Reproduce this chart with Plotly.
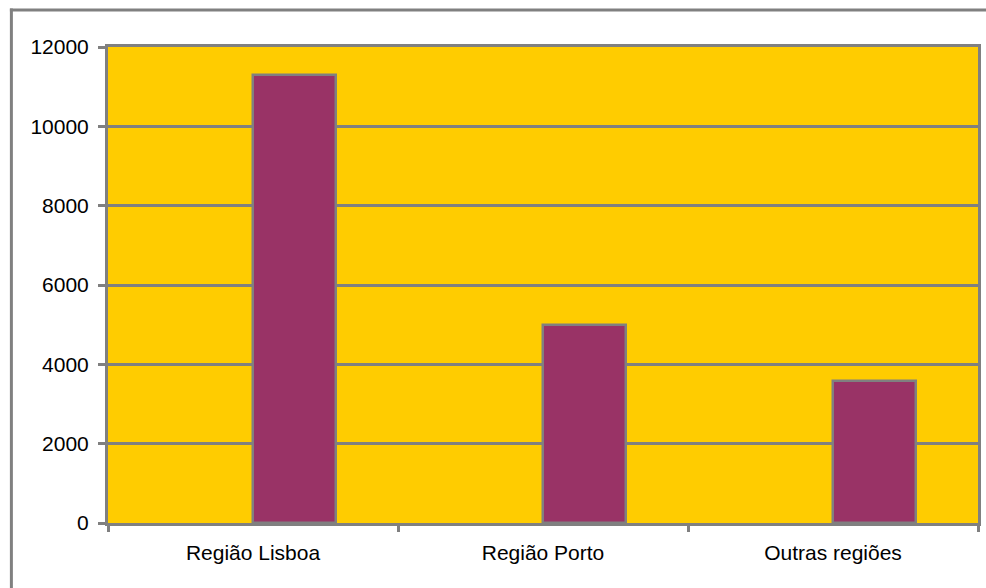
import plotly.graph_objects as go

categories = ["Região Lisboa", "Região Porto", "Outras regiões"]
values = [11300, 5000, 3580]
y_ticks = [0, 2000, 4000, 6000, 8000, 10000, 12000]

GRAY = "#808080"
FONT = "Liberation Sans, Arial, sans-serif"

fig = go.Figure()
fig.add_trace(go.Bar(
    x=categories, y=values,
    marker=dict(color="#993366", line=dict(color=GRAY, width=2.5)),
    width=0.286, offset=0,
    showlegend=False,
))

W, H = 986, 588
L, R, T, B = 108, 4.5, 46.5, 65
pw = W - L - R
ph = H - T - B

def px_x(x):
    return (x - L) / pw

def px_y(y):
    return (H - B - y) / ph

# outer chart border (only left and top edges fall inside the picture)
fig.add_shape(type="line", xref="paper", yref="paper",
              x0=px_x(11), x1=px_x(11), y0=px_y(8), y1=px_y(600),
              line=dict(color=GRAY, width=3), layer="below")
fig.add_shape(type="line", xref="paper", yref="paper",
              x0=px_x(9.5), x1=px_x(1000), y0=px_y(9.5), y1=px_y(9.5),
              line=dict(color=GRAY, width=3), layer="below")

fig.update_layout(
    width=W, height=H,
    margin=dict(l=L, r=R, t=T, b=B, pad=0),
    paper_bgcolor="white",
    plot_bgcolor="#FFCC00",
    font=dict(family=FONT, size=21, color="black"),
    bargap=0,
    xaxis=dict(
        type="category", range=[-0.5, 2.5],
        showgrid=False, showline=True, linecolor=GRAY, linewidth=3, mirror=True,
        ticks="outside", tickson="boundaries", ticklen=6, tickwidth=3, tickcolor=GRAY,
        ticklabelstandoff=9,
        tickfont=dict(family=FONT, size=21),
    ),
    yaxis=dict(
        range=[0, 12000], tickvals=y_ticks, ticktext=[str(v) for v in y_ticks],
        showgrid=True, gridcolor=GRAY, gridwidth=2.5,
        showline=True, linecolor=GRAY, linewidth=3, mirror=True,
        ticks="outside", ticklen=7, tickwidth=3, tickcolor=GRAY,
        ticklabelstandoff=5, zeroline=False,
        tickfont=dict(family=FONT, size=21),
    ),
)

fig.write_html("out.html")
